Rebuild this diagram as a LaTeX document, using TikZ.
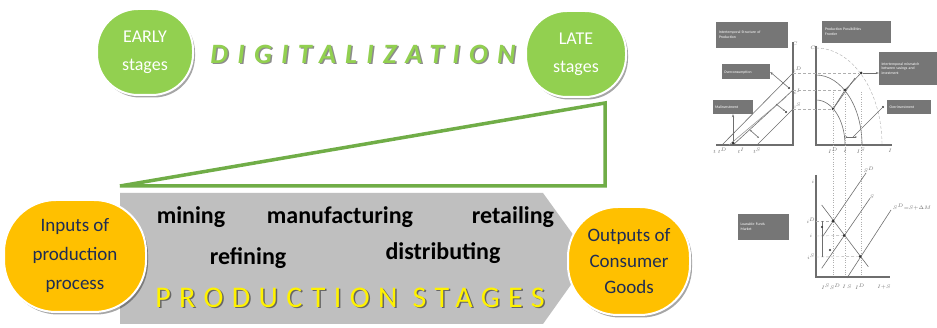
\documentclass[tikz,border=0pt]{standalone}
\usepackage{fontspec}
\setmainfont{Carlito}
\usetikzlibrary{shadows,positioning,arrows.meta}

\definecolor{leaf}{RGB}{146,208,80}
\definecolor{rim}{RGB}{112,173,71}
\definecolor{amber}{RGB}{255,192,0}
\definecolor{ink}{RGB}{31,45,84}
\definecolor{slab}{RGB}{191,191,191}
\definecolor{tag}{RGB}{118,118,118}
\definecolor{chalk}{RGB}{110,110,110}

\begin{document}
\begin{tikzpicture}[x=1pt, y=-1pt]
  \tikzset{blob/.style={draw=white, line width=2pt, rounded corners=41pt, align=center, inner sep=0pt,
      drop shadow={shadow xshift=2pt, shadow yshift=-2.5pt, opacity=0.35, fill=black}},
    stageword/.style={font=\fontsize{24}{28}\selectfont\bfseries, text=black},
    tagbox/.style={fill=tag, text=white, font=\fontsize{3.8}{4.8}\selectfont, align=left, inner sep=2pt},
    axis/.style={draw=chalk, line width=1.1pt},
    curve/.style={draw=chalk, line width=0.6pt},
    guide/.style={draw=chalk!55, densely dashed, line width=0.4pt},
    tick/.style={font=\fontsize{4.5}{5}\selectfont, text=chalk, inner sep=0.5pt},
    dot/.style={circle, fill=black!80, inner sep=0pt, minimum size=3pt}}

  \fill[white] (0,0) rectangle (937,328);
  \useasboundingbox (0,0) rectangle (937,328);

  % growing wedge of digitalization
  \coordinate (wtip) at (120,186);
  \coordinate (wtop) at (605,103);
  \coordinate (wfoot) at (605,186);
  \draw[rim, line width=3.5pt] (wtip) -- (wtop) -- (wfoot) -- cycle;

  % grey arrow of the stages
  \fill[slab] (120,193) -- (543,193) -- (590,258) -- (543,324) -- (120,324) -- cycle;

  \node[stageword] (mining) at (191,217) {mining};
  \node[stageword] (manuf) at (340,217) {manufacturing};
  \node[stageword] (retail) at (513,217) {retailing};
  \node[stageword] (refine) at (248,258) {refining};
  \node[stageword] (distrib) at (443,253) {distributing};

  \node[font=\fontsize{30}{34}\selectfont\addfontfeatures{LetterSpace=28}, text=black!60] (stagesshade) at (351.5,299) {PRODUCTION STAGES};
  \node[font=\fontsize{30}{34}\selectfont\addfontfeatures{LetterSpace=28}, text=yellow] (stages) at (350,297.5) {PRODUCTION STAGES};

  % title row
  \node[blob, fill=leaf, text=white, minimum width=96pt, minimum height=86pt, font=\fontsize{18}{28}\selectfont] (early) at (145,52) {EARLY\\stages};
  \node[blob, fill=leaf, text=white, minimum width=100pt, minimum height=86pt, font=\fontsize{18}{28}\selectfont] (late) at (576,54) {LATE\\stages};
  \node[font=\fontsize{28}{32}\selectfont\bfseries\itshape\addfontfeatures{LetterSpace=33}, text=black!45] (digishade) at (364.5,55.5) {DIGITALIZATION};
  \node[font=\fontsize{28}{32}\selectfont\bfseries\itshape\addfontfeatures{LetterSpace=33}, text=leaf] (digital) at (363,54) {DIGITALIZATION};

  % inputs and outputs
  \node[blob, fill=amber, text=ink, minimum width=142pt, minimum height=112pt, rounded corners=52pt, font=\fontsize{19}{29}\selectfont] (inputs) at (75,256) {Inputs of\\production\\process};
  \node[blob, fill=amber, text=ink, minimum width=122pt, minimum height=108pt, rounded corners=50pt, font=\fontsize{19}{26}\selectfont] (outputs) at (629,261) {Outputs of\\Consumer\\Goods};

  % structure of production
  \node[tagbox, minimum width=72pt, minimum height=26pt, text width=66pt] (isp) at (752,35) {Intertemporal Structure of\\Production};
  \node[tagbox, minimum width=48pt, minimum height=15pt, text width=44pt] (overcons) at (746,72) {Overconsumption};
  \node[tagbox, minimum width=40pt, minimum height=14pt, text width=36pt] (malinv) at (733,107) {Malinvestment};
  \draw[axis] (793,42) -- (793,145) -- (716,145);
  \draw[curve] (722,145) -- (793,73);
  \draw[curve] (733,145) -- (793,90);
  \draw[curve] (757,145) -- (793,109);
  \draw[curve, draw=chalk!70] (729,145) -- (786,97);
  \node[dot] (h0) at (733,143) {};
  \node[dot, minimum size=2.4pt] (h1) at (789,88) {};
  \node[dot, minimum size=2.4pt] (h2) at (786,112) {};
  \draw[curve, -{Stealth[length=3pt]}] (h1) -- (overcons.east);
  \draw[curve, -{Stealth[length=3pt]}] (h0) -- (malinv.south);
  \draw[curve, {Stealth[length=2pt]}-{Stealth[length=2pt]}] (750,130) -- (759,138);
  \draw[curve, -{Stealth[length=2pt]}] (776,104) -- (785,111);
  \node[tick] at (795,44) {$C$};
  \node[tick] at (720,151) {$t\;t^{D}$};
  \node[tick] at (741,151) {$t^{I}$};
  \node[tick] at (757,151) {$t^{S}$};
  \node[tick] at (797,70) {$c^{D}$};
  \node[tick] at (797,92) {$c^{I}$};
  \node[tick] at (797,106) {$c^{S}$};

  % production possibilities frontier
  \node[tagbox, minimum width=69pt, minimum height=22pt, text width=63pt] (ppf) at (856.5,32) {Production Possibilities\\Frontier};
  \node[tagbox, minimum width=58pt, minimum height=33pt, text width=53pt] (mismatch) at (908,68.5) {Intertemporal mismatch\\between savings and\\investment};
  \node[tagbox, minimum width=44pt, minimum height=14pt, text width=39pt] (overinv) at (909,107) {Overinvestment};
  \draw[axis] (816,46) -- (816,145) -- (892,145);
  \draw[guide] (816,48) arc[start angle=270, end angle=360, x radius=66, y radius=97];
  \draw[curve] (816,75) arc[start angle=270, end angle=360, x radius=46, y radius=70];
  \draw[curve] (816,100) arc[start angle=270, end angle=360, x radius=29, y radius=45];
  \node[dot] (q1) at (861,73) {};
  \node[dot] (q2) at (845,90) {};
  \node[dot] (q3) at (833,109) {};
  \draw[guide] (793,73) -- (q1);
  \draw[guide] (793,90) -- (q2);
  \draw[guide] (793,109) -- (q3);
  \draw[curve] (q3) -- (q2) -- (q1);
  \draw[curve] (q3) -- (855,78);
  \draw[curve, -{Stealth[length=3pt]}] (q1) -- (mismatch.west |- q1);
  \node[dot, minimum size=2.4pt] (q4) at (883,107) {};
  \draw[curve] (q4) -- (853,137);
  \draw[curve, {Stealth[length=2pt]}-{Stealth[length=2pt]}] (845,137) -- (857,137);
  \foreach \vx in {833,845,861}
    \draw[guide, dotted] (\vx,92) -- (\vx,277);
  \node[tick] at (813,48) {$C$};
  \node[tick] at (833,151) {$I^{D}$};
  \node[tick] at (845,151) {$I$};
  \node[tick] at (861,151) {$I^{S}$};
  \node[tick] at (890,151) {$I$};

  % loanable funds market
  \node[tagbox, minimum width=51pt, minimum height=26pt, text width=46pt] (lfm) at (763.5,227) {Loanable Funds\\Market};
  \draw[axis] (816,175) -- (816,277) -- (890,277);
  \draw[curve] (821.7,205) -- (868.3,266.7);
  \draw[curve] (823,236) -- (866,173);
  \draw[curve] (821.7,268.3) -- (870,198.3);
  \draw[curve] (847,278) -- (891,210);
  \node[dot] (l1) at (833,221) {};
  \node[dot] (l2) at (844,235.5) {};
  \node[dot] (l3) at (860,256.5) {};
  \draw[guide] (816,221) -- (l1);
  \draw[guide] (816,236) -- (l2);
  \draw[guide] (816,257) -- (l3);
  \draw[curve] (822,221) -- (822,257);
  \node[dot, minimum size=2.4pt] (l4) at (822,227) {};
  \node[dot, minimum size=2.4pt] (l5) at (830,250) {};
  \node[tick] at (813,182) {$i$};
  \node[tick] at (811,221) {$i^{D}$};
  \node[tick] at (811,236) {$i$};
  \node[tick] at (811,257) {$i^{S}$};
  \node[tick] at (831,287) {$I^{S}S^{D}$};
  \node[tick] at (847,287) {$I\,S$};
  \node[tick] at (860,287) {$I^{D}$};
  \node[tick] at (884,287) {$I{+}S$};
  \node[tick] at (869,170) {$S^{D}$};
  \node[tick] at (872,197) {$S$};
  \node[tick] at (912,207) {$S^{D}{=}S{+}\Delta M$};
\end{tikzpicture}
\end{document}
